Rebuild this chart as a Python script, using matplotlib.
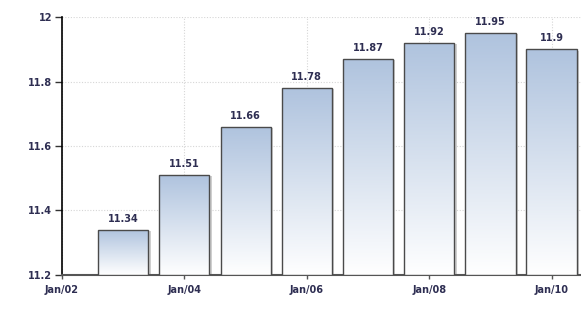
import matplotlib
matplotlib.use("Agg")
import matplotlib.pyplot as plt
import matplotlib.dates as mdates
import numpy as np
import datetime as dt
from matplotlib.patches import Rectangle
from matplotlib.colors import LinearSegmentedColormap

years = [2003, 2004, 2005, 2006, 2007, 2008, 2009, 2010]
values = [11.34, 11.51, 11.66, 11.78, 11.87, 11.92, 11.95, 11.9]
value_labels = ["11.34", "11.51", "11.66", "11.78", "11.87", "11.92", "11.95", "11.9"]
tick_years = [2002, 2004, 2006, 2008, 2010]
tick_labels = ["Jan/02", "Jan/04", "Jan/06", "Jan/08", "Jan/10"]
y_ticks = [11.2, 11.4, 11.6, 11.8, 12.0]
y_tick_labels = ["11.2", "11.4", "11.6", "11.8", "12"]

text_color = "#2e2e52"

fig = plt.figure(figsize=(5.81, 3.10), dpi=100)
ax = fig.add_axes([0.1067, 0.113, 0.8933, 0.832])

dates = [mdates.date2num(dt.datetime(y, 1, 1)) for y in years]
tick_pos = [mdates.date2num(dt.datetime(y, 1, 1)) for y in tick_years]
ymin, ymax = 11.2, 12.0
width = 300

grad = np.linspace(0, 1, 256).reshape(-1, 1)
cmap = LinearSegmentedColormap.from_list("g", ["#ffffff", "#afc3de"])

for d, v, lab in zip(dates, values, value_labels):
    x0 = d - width / 2
    sh = Rectangle((x0 + 6, ymin), width + 8, v - ymin - 0.004, facecolor="#cfcfcf",
                   edgecolor="none", zorder=2)
    ax.add_patch(sh)
    rect = Rectangle((x0, ymin), width, v - ymin, facecolor="none",
                     edgecolor="#4a4a4a", linewidth=1.0, zorder=4)
    ax.add_patch(rect)
    im = ax.imshow(grad, extent=[x0, x0 + width, ymin, v], aspect="auto",
                   cmap=cmap, origin="lower", zorder=3, vmin=0, vmax=1,
                   interpolation="bilinear")
    im.set_clip_path(rect)
    ax.text(d, v + 0.018, lab, ha="center", va="bottom", fontsize=7,
            fontweight="bold", color=text_color, zorder=5)

ax.set_xlim(tick_pos[0], tick_pos[0] + 8.48 * 365.25)
ax.set_ylim(ymin, ymax)
ax.set_xticks(tick_pos)
ax.set_xticklabels(tick_labels)
ax.set_yticks(y_ticks)
ax.set_yticklabels(y_tick_labels)
for t in ax.get_xticklabels() + ax.get_yticklabels():
    t.set_fontweight("bold")
ax.tick_params(axis="both", labelsize=7, colors=text_color)
ax.tick_params(axis="y", length=5, width=1, color="#333333", pad=2)
ax.tick_params(axis="x", length=3, width=1, color="#555555", pad=4)
ax.grid(True, linestyle=(0, (1, 1.5)), color="#d6d6d6", linewidth=0.8, zorder=0)
ax.set_axisbelow(True)
for s in ["top", "right"]:
    ax.spines[s].set_visible(False)
ax.spines["left"].set_color("#000000")
ax.spines["left"].set_linewidth(1.2)
ax.spines["bottom"].set_color("#555555")
ax.spines["bottom"].set_linewidth(1.5)

fig.savefig("out.png", dpi=100)
